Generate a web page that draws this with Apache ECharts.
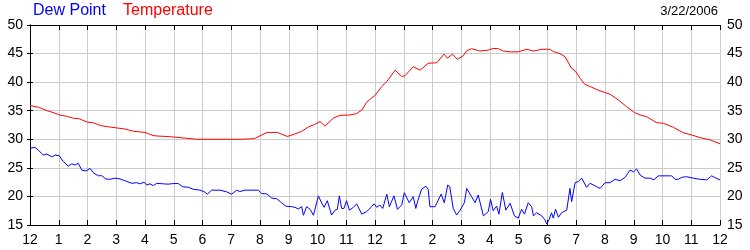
<!DOCTYPE html>
<html>
<head>
<meta charset="utf-8">
<script src="https://cdn.jsdelivr.net/npm/echarts@6/dist/echarts.min.js"></script>
<style>
html,body{margin:0;padding:0;background:#fff;}
#c{width:750px;height:250px;}
</style>
</head>
<body>
<div id="c"></div>
<script>
var hourTicks = [12,1,2,3,4,5,6,7,8,9,10,11,12,1,2,3,4,5,6,7,8,9,10,11,12];
var yTicks = [15,20,25,30,35,40,45,50];
var dateLabel = "3/22/2006";

var tempHours = [0,0.3,0.6,0.85,1.0,1.3,1.5,1.7,2.0,2.2,2.45,2.7,3.0,3.3,3.6,3.8,4.0,4.2,4.35,4.7,5.0,5.4,5.8,6.5,7.3,7.8,8.0,8.25,8.6,8.95,9.2,9.45,9.7,9.9,10.09,10.26,10.55,10.78,11.13,11.36,11.54,11.71,12.01,12.23,12.41,12.70,12.93,13.04,13.33,13.57,13.85,14.15,14.40,14.52,14.70,14.86,15.07,15.19,15.36,15.65,15.94,16.11,16.29,16.46,16.70,16.98,17.28,17.51,17.80,18.09,18.20,18.43,18.61,18.84,18.96,19.13,19.3,19.5,19.76,20.17,20.46,20.75,21.02,21.22,21.45,21.80,22.03,22.38,22.72,23.02,23.30,23.65,24];
var tempValues = [35.9,35.6,35.0,34.6,34.3,34.0,33.7,33.6,33.0,32.9,32.4,32.2,32.0,31.8,31.4,31.3,31.2,30.8,30.6,30.5,30.4,30.2,30.0,30.0,30.0,30.1,30.6,31.2,31.2,30.5,30.9,31.4,32.2,32.6,33.1,32.3,33.7,34.2,34.25,34.5,35.1,36.5,37.75,39.2,40.1,42.1,41.0,41.1,42.7,42.1,43.3,43.4,44.9,44.2,44.9,44.0,44.6,45.5,45.85,45.45,45.6,45.9,45.85,45.45,45.3,45.3,45.75,45.45,45.75,45.75,45.35,45.0,44.45,42.4,42.0,40.7,39.6,39.2,38.6,37.9,36.9,35.7,34.7,34.25,33.95,32.9,32.8,32.1,31.15,30.75,30.3,29.9,29.2];

var dewHours = [0,0.17,0.29,0.46,0.58,0.70,0.79,0.87,1.02,1.16,1.33,1.45,1.57,1.68,1.80,1.95,2.09,2.20,2.38,2.49,2.64,2.78,2.96,3.13,3.30,3.54,3.71,3.83,3.97,4.06,4.17,4.29,4.41,4.64,4.81,4.98,5.16,5.31,5.51,5.68,5.91,6.05,6.17,6.32,6.61,6.84,7.01,7.19,7.30,7.48,7.94,8.06,8.23,8.41,8.58,8.75,8.90,9.10,9.22,9.33,9.45,9.51,9.62,9.74,9.86,10.03,10.15,10.23,10.34,10.49,10.61,10.69,10.76,10.84,10.92,11.01,11.11,11.25,11.36,11.54,11.71,11.88,11.97,12.06,12.17,12.27,12.41,12.50,12.66,12.78,12.93,13.02,13.19,13.33,13.42,13.48,13.62,13.77,13.85,13.91,14.09,14.15,14.30,14.41,14.53,14.60,14.72,14.84,14.96,15.11,15.19,15.36,15.48,15.59,15.77,15.94,16.02,16.11,16.23,16.31,16.43,16.55,16.70,16.85,16.98,17.10,17.20,17.33,17.45,17.51,17.62,17.80,17.91,17.97,18.06,18.14,18.20,18.28,18.38,18.49,18.67,18.78,18.84,18.96,19.07,19.19,19.36,19.48,19.71,19.83,20.0,20.17,20.35,20.52,20.70,20.87,20.99,21.10,21.22,21.39,21.57,21.70,21.85,22.32,22.43,22.55,22.67,22.84,23.07,23.30,23.54,23.71,23.86,24.0];
var dewValues = [28.4,28.6,28.1,27.25,27.4,27.1,26.95,27.25,27.1,26.1,25.3,25.7,25.5,25.8,24.6,24.45,24.9,24.15,23.6,23.65,23.05,23.0,23.2,23.05,22.75,22.3,22.4,22.2,22.5,22.0,22.2,21.9,22.3,22.2,22.15,22.25,22.25,21.7,21.6,21.25,21.1,20.85,20.4,21.1,21.1,20.8,20.4,21.1,20.85,21.1,21.1,20.5,20.45,19.7,19.6,18.9,18.3,18.2,18.1,17.8,18.2,16.7,18.2,17.75,16.7,20.1,18.8,18.1,19.25,16.75,17.6,17.75,20.1,17.9,17.9,19.25,17.6,18.1,18.7,16.9,17.35,18.2,18.7,18.1,18.5,17.9,20.4,18.2,20.1,17.75,18.5,20.65,18.9,19.95,17.9,19.1,21.25,21.8,21.25,18.2,18.2,18.5,20.4,18.9,22.0,21.7,17.9,16.75,17.6,18.9,21.4,19.95,18.9,20.25,16.6,17.35,19.5,17.5,18.3,16.9,20.7,17.6,18.8,16.6,16.2,17.75,16.9,18.9,18.2,16.6,17.15,16.6,15.9,15.2,16.0,17.15,16.2,17.75,16.35,17.15,17.6,21.4,19.1,22.4,22.6,23.2,21.6,22.3,21.7,21.4,22.4,22.4,23.0,22.75,23.35,24.6,24.3,24.8,23.75,23.2,23.2,22.9,23.6,23.6,23.0,23.0,23.35,23.45,23.2,23.0,22.9,23.6,23.2,22.9];

function pairs(xs, ys){ return xs.map(function(x,i){ return [x, ys[i]]; }); }

var FONT = 'Liberation Sans, Arial, sans-serif';
var chart = echarts.init(document.getElementById('c'), null, {renderer:'canvas'});
var yBase = {
  type:'value', min:yTicks[0], max:yTicks[yTicks.length-1], interval:5,
  axisLine:{show:true, lineStyle:{color:'#000', width:1}},
  axisTick:{show:true, inside:false, length:3, lineStyle:{color:'#000'}},
  axisLabel:{color:'#000', fontSize:14, fontFamily:FONT, margin:7}
};
chart.setOption({
  animation:false,
  grid:{left:30, right:30, top:25, bottom:25, containLabel:false},
  graphic:[
    {type:'text', left:33, top:3, style:{text:'Dew Point', fill:'#0000ff', font:'16px '+FONT}},
    {type:'text', left:123, top:3, style:{text:'Temperature', fill:'#ff0000', font:'16px '+FONT}},
    {type:'text', right:32, top:5, style:{text:dateLabel, fill:'#000', font:'13px '+FONT}}
  ],
  xAxis:[
    {type:'value', position:'bottom', min:0, max:24, interval:1,
     axisLine:{show:true, onZero:false, lineStyle:{color:'#000'}},
     axisTick:{show:true, inside:true, length:5, lineStyle:{color:'#000'}},
     axisLabel:{color:'#000', fontSize:14, fontFamily:FONT, margin:8,
       formatter:function(v){ return String(hourTicks[Math.round(v)]); }},
     splitLine:{show:true, lineStyle:{color:'#cccccc', width:1}}},
    {type:'value', position:'top', min:0, max:24, interval:1,
     axisLine:{show:true, onZero:false, lineStyle:{color:'#000'}},
     axisTick:{show:true, inside:true, length:5, lineStyle:{color:'#000'}},
     axisLabel:{show:false}, splitLine:{show:false}}
  ],
  yAxis:[
    Object.assign({}, yBase, {position:'left', splitLine:{show:true, lineStyle:{color:'#cccccc', width:1}}}),
    Object.assign({}, yBase, {position:'right', splitLine:{show:false}})
  ],
  series:[
    {name:'Temperature', type:'line', xAxisIndex:0, yAxisIndex:0, showSymbol:false, symbol:'none',
     lineStyle:{color:'#ff0000', width:1}, data:pairs(tempHours, tempValues)},
    {name:'Dew Point', type:'line', xAxisIndex:0, yAxisIndex:0, showSymbol:false, symbol:'none',
     lineStyle:{color:'#0000ff', width:1}, data:pairs(dewHours, dewValues)}
  ]
});
</script>
</body>
</html>
